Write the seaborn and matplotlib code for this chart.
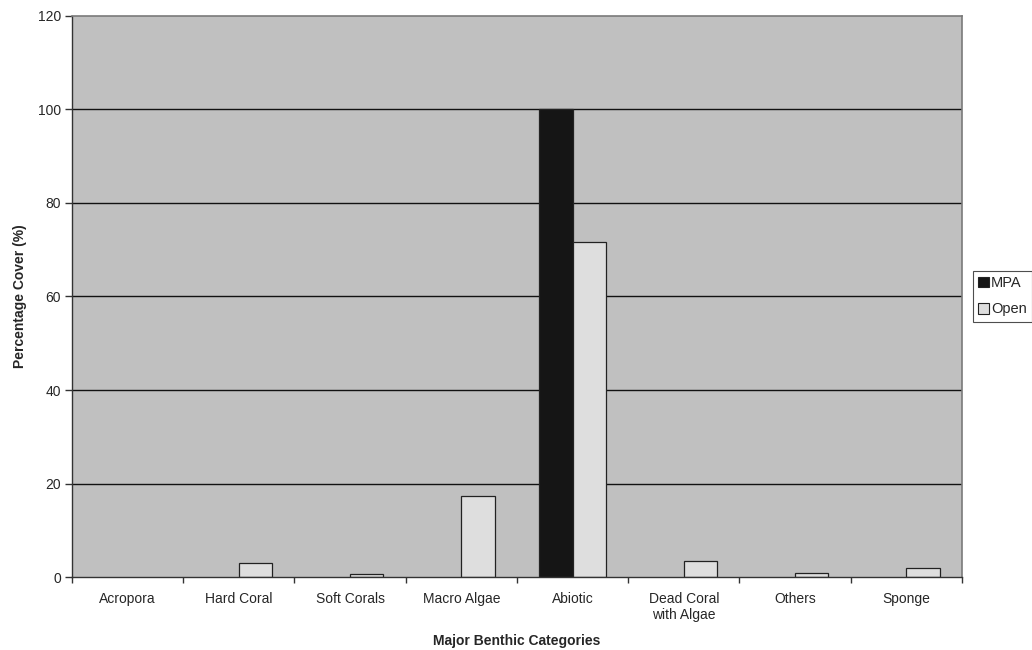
import matplotlib
matplotlib.use("Agg")
import matplotlib.pyplot as plt
import seaborn as sns
import pandas as pd
import numpy as np

categories = ["Acropora", "Hard Coral", "Soft Corals", "Macro Algae", "Abiotic",
              "Dead Coral\nwith Algae", "Others", "Sponge"]
mpa_cover = [0, 0, 0, 0, 100, 0, 0, 0]
open_cover = [0, 3.1, 0.6, 17.3, 71.6, 3.4, 0.8, 1.9]
sites = ["MPA", "Open"]
y_ticks = [0, 20, 40, 60, 80, 100, 120]

df = pd.DataFrame({
    "category": categories * 2,
    "cover": mpa_cover + open_cover,
    "site": [sites[0]] * len(categories) + [sites[1]] * len(categories),
})

sns.set_theme(style="white")
plt.rcParams["font.family"] = ["Liberation Sans", "DejaVu Sans"]

fig = plt.figure(figsize=(10.32, 6.5), dpi=100)
ax = fig.add_axes([0.0698, 0.1123, 0.8622, 0.8631])
ax.set_facecolor("#c0c0c0")

sns.barplot(data=df, x="category", y="cover", hue="site", order=categories,
            hue_order=sites, palette={"MPA": "#151515", "Open": "#dedede"},
            width=0.6, edgecolor="#222222", linewidth=0.9, ax=ax, legend=True,
            errorbar=None)

# empty bars leave no outline on the baseline
for container in ax.containers:
    for patch in container:
        if patch.get_height() == 0:
            patch.set_visible(False)

ax.set_ylim(0, 120)
ax.set_xlim(-0.5, len(categories) - 0.5)
ax.set_yticks(y_ticks)
ax.set_yticklabels([str(t) for t in y_ticks], fontsize=10)
for t in y_ticks[1:-1]:
    ax.axhline(t, color="#111111", linewidth=1.0, zorder=0.5)

# category labels centred, tick marks between categories
ax.set_xticks(np.arange(len(categories)))
ax.set_xticklabels(categories, fontsize=10)
ax.tick_params(axis="x", length=0, pad=11)
ax.set_xticks(np.arange(len(categories) + 1) - 0.5, minor=True)
ax.tick_params(axis="x", which="minor", length=4, width=1, color="#333333",
               direction="out", bottom=True)
ax.tick_params(axis="y", length=5, width=1, color="#333333", direction="out",
               left=True, pad=3)

for side in ["top", "right"]:
    ax.spines[side].set_color("#7a7a7a")
    ax.spines[side].set_linewidth(1.2)
for side in ["left", "bottom"]:
    ax.spines[side].set_color("#333333")
    ax.spines[side].set_linewidth(1.0)

ax.set_xlabel("Major Benthic Categories", fontsize=10, fontweight="bold")
ax.xaxis.set_label_coords(0.5, -0.101)
ax.set_ylabel("Percentage Cover (%)", fontsize=10, fontweight="bold", labelpad=8)

handles = [plt.Rectangle((0, 0), 1, 1, facecolor=c, edgecolor="#222222", linewidth=0.8)
           for c in ["#151515", "#dedede"]]
ax.get_legend().remove()
leg = fig.legend(handles, sites, loc="upper left", bbox_to_anchor=(973 / 1032, 1 - 271 / 650),
                 bbox_transform=fig.transFigure, fontsize=10.5, frameon=True,
                 fancybox=False, edgecolor="#222222", handlelength=0.75,
                 handleheight=0.75, handletextpad=0.15, borderpad=0.35,
                 labelspacing=0.85, borderaxespad=0)
leg.get_frame().set_linewidth(0.8)

fig.savefig("out.png", dpi=100, facecolor="white")
